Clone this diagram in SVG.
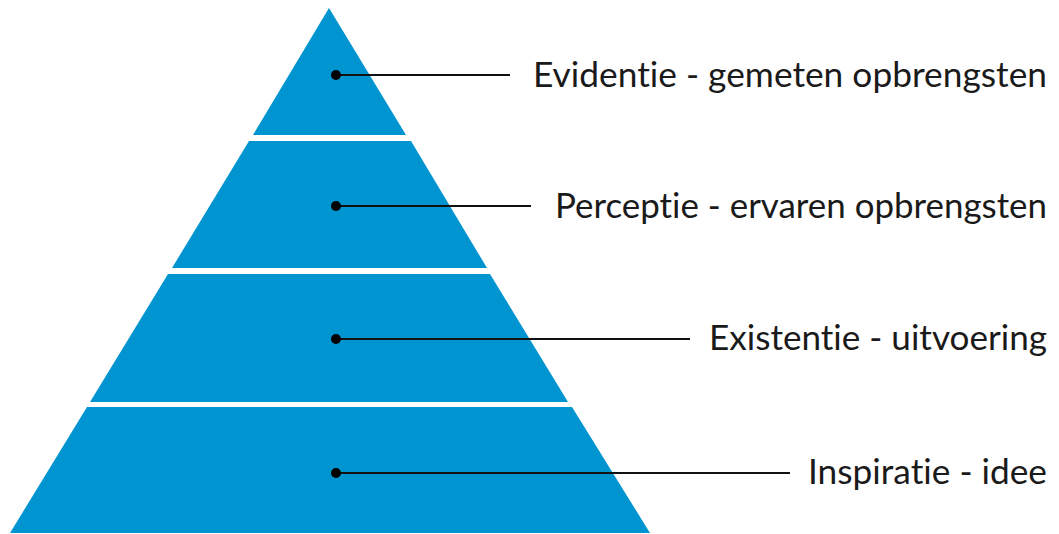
<svg xmlns="http://www.w3.org/2000/svg" width="1059" height="534" viewBox="0 0 1059 534">
<style>
.band{fill:#0094d0}
.lbl{font-family:Lato,"Open Sans",sans-serif;font-size:35px;fill:#1a1a1a;text-anchor:end;font-variant-ligatures:none;font-feature-settings:"liga" 0,"clig" 0}
.conn{stroke:#111;stroke-width:2.2;fill:none}
.dot{fill:#000}
</style>
<rect width="1059" height="534" fill="#fff"/>
<g id="level1"><polygon class="band" points="329,8 253,135 406,135"/></g>
<g id="level2"><polygon class="band" points="249,141 411,141 487,268 172,268"/></g>
<g id="level3"><polygon class="band" points="168,274 490,274 568,402 90,402"/></g>
<g id="level4"><polygon class="band" points="87,407 572,407 650,533 10,533"/></g>
<g id="connectors">
<line class="conn" x1="336" y1="75" x2="510" y2="75"/>
<line class="conn" x1="336" y1="206" x2="531" y2="206"/>
<line class="conn" x1="336" y1="339" x2="690" y2="339"/>
<line class="conn" x1="336" y1="473" x2="790" y2="473"/>
<circle class="dot" cx="336" cy="75" r="5"/>
<circle class="dot" cx="336" cy="206" r="5"/>
<circle class="dot" cx="336" cy="339" r="5"/>
<circle class="dot" cx="336" cy="473" r="5"/>
</g>
<g id="label1"><text class="lbl" x="1047" y="87" textLength="514" lengthAdjust="spacingAndGlyphs">Evidentie - gemeten opbrengsten</text></g>
<g id="label2"><text class="lbl" x="1047" y="218" textLength="492" lengthAdjust="spacingAndGlyphs">Perceptie - ervaren opbrengsten</text></g>
<g id="label3"><text class="lbl" x="1047" y="350" textLength="338" lengthAdjust="spacingAndGlyphs">Existentie - uitvoering</text></g>
<g id="label4"><text class="lbl" x="1047" y="484" textLength="239" lengthAdjust="spacingAndGlyphs">Inspiratie - idee</text></g>
</svg>
